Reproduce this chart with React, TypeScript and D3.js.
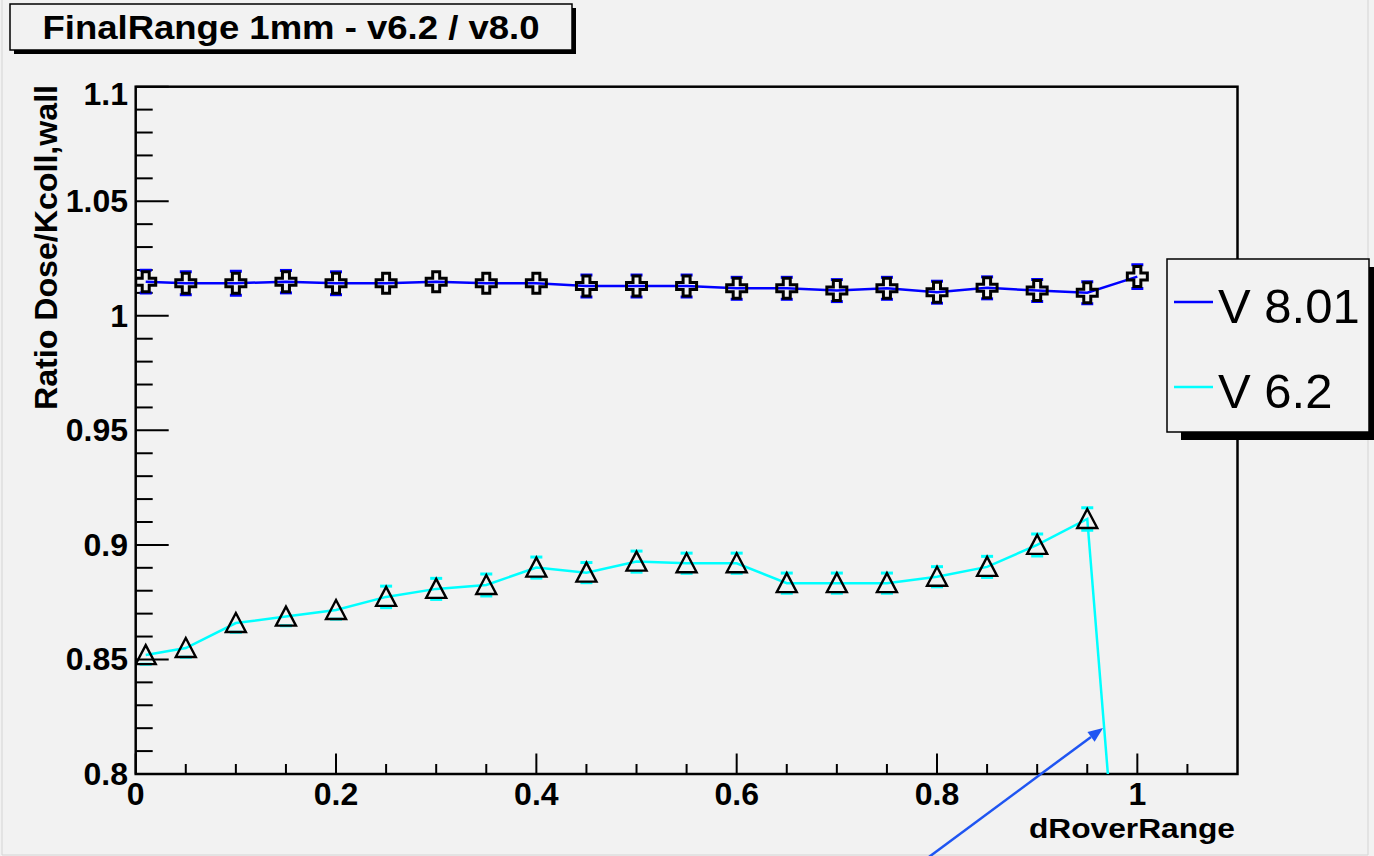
import React, { useEffect, useRef } from 'react'
import * as d3 from 'd3'

// dRoverRange sample points
const xValues = [0.01, 0.05, 0.1, 0.15, 0.2, 0.25, 0.3, 0.35, 0.4, 0.45, 0.5, 0.55, 0.6, 0.65, 0.7, 0.75, 0.8, 0.85, 0.9, 0.95, 1.0]

// V 8.01 ratio and errors
const v801 = [1.0149, 1.0142, 1.0142, 1.0149, 1.0142, 1.0142, 1.0149, 1.0142, 1.0142, 1.0130, 1.0130, 1.0130, 1.0120, 1.0120, 1.0110, 1.0120, 1.0103, 1.0122, 1.0110, 1.0101, 1.0171]
const v801Err = [0.0050, 0.0050, 0.0052, 0.0049, 0.0050, 0.0035, 0.0035, 0.0035, 0.0035, 0.0048, 0.0048, 0.0048, 0.0048, 0.0048, 0.0048, 0.0048, 0.0048, 0.0048, 0.0048, 0.0048, 0.0052]

// V 6.2 ratio and errors
const v62 = [0.8519, 0.8550, 0.8659, 0.8687, 0.8716, 0.8773, 0.8808, 0.8825, 0.8901, 0.8879, 0.8927, 0.8920, 0.8920, 0.8833, 0.8833, 0.8833, 0.8861, 0.8904, 0.9000, 0.9113, 0.641]
const v62Err = [0.0040, 0.0040, 0.0040, 0.0040, 0.0040, 0.0047, 0.0046, 0.0048, 0.0046, 0.0044, 0.0046, 0.0044, 0.0044, 0.0044, 0.0044, 0.0044, 0.0044, 0.0046, 0.0048, 0.0049, 0.0050]

const seriesNames = ['V 8.01', 'V 6.2']
const seriesColors = ['#0000ff', '#00ffff']

const yTicks = [0.8, 0.85, 0.9, 0.95, 1, 1.05, 1.1]
const yTickLabels = ['0.8', '0.85', '0.9', '0.95', '1', '1.05', '1.1']
const xTicks = [0, 0.2, 0.4, 0.6, 0.8, 1]
const xTickLabels = ['0', '0.2', '0.4', '0.6', '0.8', '1']

const titleText = 'FinalRange 1mm - v6.2 / v8.0'
const xTitle = 'dRoverRange'
const yTitle = 'Ratio Dose/Kcoll,wall'

// annotation arrow, in data units
const arrowFrom = [0.788, 0.7625]
const arrowTo = [0.9658, 0.8201]

const App = () => {
    const ref = useRef<HTMLDivElement>(null)

    useEffect(() => {
        d3.select(ref.current).selectAll('svg').remove()

        const width = 1374
        const height = 856
        const left = 135.7
        const right = 1237.5
        const top = 86.7
        const bottom = 774
        const bg = '#f2f2f2'
        const font = "'Liberation Sans', Arial, sans-serif"

        const svg = d3.select(ref.current)
            .append('svg')
            .attr('width', width)
            .attr('height', height)
            .attr('viewBox', `0 0 ${width} ${height}`)
            .style('display', 'block')

        svg.append('rect')
            .attr('width', width).attr('height', height)
            .attr('fill', bg)

        // faint canvas border
        svg.append('path')
            .attr('d', `M2,0 V855 H1368 V0`)
            .attr('fill', 'none')
            .attr('stroke', '#d4d4d4')
            .attr('stroke-width', 1)

        const x = d3.scaleLinear().domain([0, 1.1]).range([left, right])
        const y = d3.scaleLinear().domain([0.8, 1.1]).range([bottom, top])

        svg.append('clipPath').attr('id', 'plotclip')
            .append('rect')
            .attr('x', left).attr('y', top)
            .attr('width', right - left).attr('height', bottom - top)

        // y ticks
        const yMinor = d3.range(0, 31).map(i => 0.8 + i * 0.01)
        svg.append('g').selectAll('line')
            .data(yMinor)
            .join('line')
            .attr('x1', left)
            .attr('x2', (d, i) => left + (i % 5 === 0 ? 33 : 17))
            .attr('y1', d => y(d)).attr('y2', d => y(d))
            .attr('stroke', '#000').attr('stroke-width', 2)

        // x ticks
        const xMinor = d3.range(0, 22).map(i => i * 0.05)
        svg.append('g').selectAll('line')
            .data(xMinor)
            .join('line')
            .attr('x1', d => x(d)).attr('x2', d => x(d))
            .attr('y1', bottom)
            .attr('y2', (d, i) => bottom - (i % 4 === 0 ? 20.5 : 10))
            .attr('stroke', '#000').attr('stroke-width', 2)

        // frame
        svg.append('rect')
            .attr('x', left).attr('y', top)
            .attr('width', right - left).attr('height', bottom - top)
            .attr('fill', 'none')
            .attr('stroke', '#000')
            .attr('stroke-width', 2.5)

        // tick labels
        svg.append('g').selectAll('text')
            .data(yTicks)
            .join('text')
            .attr('x', 128)
            .attr('y', (d, i) => y(d) + (i === yTicks.length - 1 ? 18 : 11))
            .attr('text-anchor', 'end')
            .attr('font-family', font)
            .attr('font-weight', 'bold')
            .attr('font-size', 32)
            .text((d, i) => yTickLabels[i])

        svg.append('g').selectAll('text')
            .data(xTicks)
            .join('text')
            .attr('x', d => x(d))
            .attr('y', 805)
            .attr('text-anchor', 'middle')
            .attr('font-family', font)
            .attr('font-weight', 'bold')
            .attr('font-size', 32)
            .text((d, i) => xTickLabels[i])

        // axis titles
        svg.append('text')
            .attr('x', 1235).attr('y', 838)
            .attr('text-anchor', 'end')
            .attr('font-family', font)
            .attr('font-weight', 'bold')
            .attr('font-size', 27)
            .attr('textLength', 206)
            .attr('lengthAdjust', 'spacingAndGlyphs')
            .text(xTitle)

        svg.append('text')
            .attr('transform', 'translate(57,85) rotate(-90)')
            .attr('text-anchor', 'end')
            .attr('font-family', font)
            .attr('font-weight', 'bold')
            .attr('font-size', 31)
            .attr('textLength', 325)
            .attr('lengthAdjust', 'spacingAndGlyphs')
            .text(yTitle)

        const plot = svg.append('g').attr('clip-path', 'url(#plotclip)')

        const line = d3.line<number>()
            .x((d, i) => x(xValues[i]))
            .y(d => y(d))

        const drawSeries = (vals: number[], errs: number[], color: string, halfUp: number, halfDown: number) => {
            plot.append('path')
                .datum(vals)
                .attr('d', line)
                .attr('fill', 'none')
                .attr('stroke', color)
                .attr('stroke-width', 2.5)

            const eg = plot.append('g').attr('stroke', color).attr('stroke-width', 3)
            vals.forEach((v, i) => {
                const cx = x(xValues[i])
                const cy = y(v)
                const yHi = y(v + errs[i])
                const yLo = y(v - errs[i])
                if (cy - yHi > halfUp) {
                    eg.append('line').attr('x1', cx).attr('x2', cx).attr('y1', cy - halfUp).attr('y2', yHi)
                    eg.append('line').attr('x1', cx - 6).attr('x2', cx + 6).attr('y1', yHi).attr('y2', yHi)
                }
                if (yLo - cy > halfDown) {
                    eg.append('line').attr('x1', cx).attr('x2', cx).attr('y1', cy + halfDown).attr('y2', yLo)
                    eg.append('line').attr('x1', cx - 6).attr('x2', cx + 6).attr('y1', yLo).attr('y2', yLo)
                }
            })
        }

        drawSeries(v801, v801Err, seriesColors[0], 10, 10)
        drawSeries(v62, v62Err, seriesColors[1], 10, 9)

        // open cross markers
        const a = 3.5
        const L = 10
        const crossPath = `M${-a},${-L} h${2 * a} v${L - a} h${L - a} v${2 * a} h${-(L - a)} v${L - a} h${-2 * a} v${-(L - a)} h${-(L - a)} v${-2 * a} h${L - a} Z`
        plot.append('g').selectAll('path')
            .data(v801)
            .join('path')
            .attr('transform', (d, i) => `translate(${x(xValues[i])},${y(d)})`)
            .attr('d', crossPath)
            .attr('fill', 'none')
            .attr('stroke', '#000')
            .attr('stroke-width', 3)

        // open triangle markers
        plot.append('g').selectAll('path')
            .data(v62)
            .join('path')
            .attr('transform', (d, i) => `translate(${x(xValues[i])},${y(d)})`)
            .attr('d', 'M0,-10 L10,9 L-10,9 Z')
            .attr('fill', 'none')
            .attr('stroke', '#000')
            .attr('stroke-width', 2.4)

        // title box
        svg.append('rect')
            .attr('x', 14).attr('y', 8).attr('width', 562).attr('height', 46)
            .attr('fill', '#000')
        svg.append('rect')
            .attr('x', 10).attr('y', 4).attr('width', 562).attr('height', 46)
            .attr('fill', bg).attr('stroke', '#000').attr('stroke-width', 1.5)
        svg.append('text')
            .attr('x', 291).attr('y', 39)
            .attr('text-anchor', 'middle')
            .attr('font-family', font)
            .attr('font-weight', 'bold')
            .attr('font-size', 33)
            .attr('textLength', 497)
            .attr('lengthAdjust', 'spacingAndGlyphs')
            .text(titleText)

        // legend
        svg.append('rect')
            .attr('x', 1181).attr('y', 267).attr('width', 202).attr('height', 173)
            .attr('fill', '#000')
        svg.append('rect')
            .attr('x', 1167).attr('y', 259).attr('width', 202).attr('height', 173)
            .attr('fill', bg).attr('stroke', '#000').attr('stroke-width', 1.5)
        const lg = svg.append('g').selectAll('g')
            .data(seriesNames)
            .join('g')
            .attr('transform', (d, i) => `translate(0,${i * 85})`)
        lg.append('line')
            .attr('x1', 1174).attr('x2', 1213)
            .attr('y1', 302).attr('y2', 302)
            .attr('stroke', (d, i) => seriesColors[i])
            .attr('stroke-width', 2.5)
        lg.append('text')
            .attr('x', 1218).attr('y', 323)
            .attr('font-family', font)
            .attr('font-size', 49)
            .text(d => d)

        // annotation arrow
        const x0 = x(arrowFrom[0]), y0 = y(arrowFrom[1])
        const x1 = x(arrowTo[0]), y1 = y(arrowTo[1])
        const ang = Math.atan2(y1 - y0, x1 - x0)
        const hl = 15
        const hw = 6
        const bx = x1 - hl * Math.cos(ang), by = y1 - hl * Math.sin(ang)
        svg.append('line')
            .attr('x1', x0).attr('y1', y0).attr('x2', bx).attr('y2', by)
            .attr('stroke', '#1f55f2').attr('stroke-width', 2.5)
        svg.append('path')
            .attr('d', `M${x1},${y1} L${bx - hw * Math.sin(ang)},${by + hw * Math.cos(ang)} L${bx + hw * Math.sin(ang)},${by - hw * Math.cos(ang)} Z`)
            .attr('fill', '#1f55f2')
    }, [])

    return <div ref={ref} style={{ position: 'absolute', left: 0, top: 0, width: 1374, height: 856 }} />
}

export default App
